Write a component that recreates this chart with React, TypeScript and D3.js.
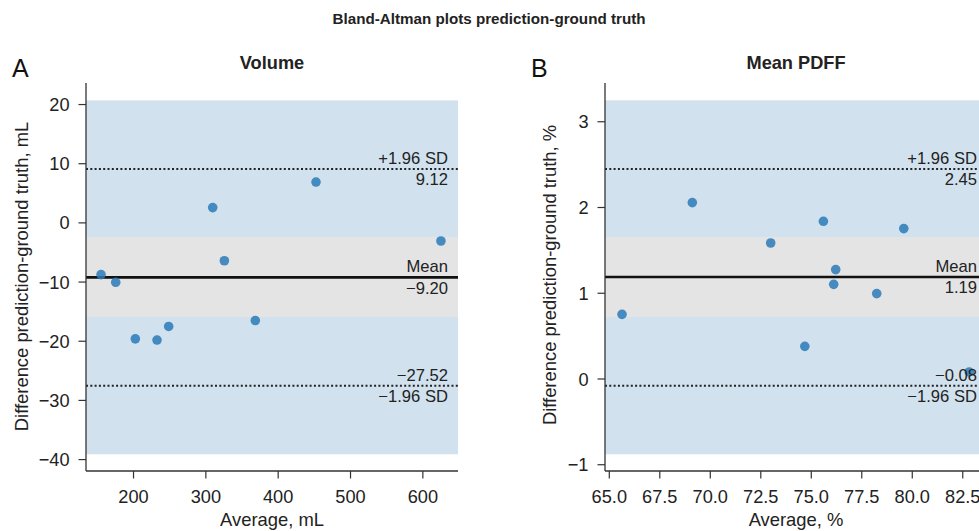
import React from "react";
import * as d3 from "d3";

// ---------- data ----------
const volumeAvg = [155.1, 175.4, 202.5, 232.5, 248.6, 309.5, 325.6, 368.4, 452.3, 625.0];
const volumeDiff = [-8.74, -10.04, -19.6, -19.8, -17.5, 2.58, -6.4, -16.5, 6.9, -3.06];
const pdffAvg = [65.63, 69.11, 72.99, 74.68, 75.6, 76.11, 76.21, 78.24, 79.58, 82.82];
const pdffDiff = [0.754, 2.057, 1.586, 0.381, 1.839, 1.104, 1.276, 0.996, 1.754, 0.082];

const volumeStats = [-9.2, 9.12, -27.52]; // mean, upper, lower
const pdffStats = [1.19, 2.45, -0.08];
const volumeStatLabels = ["−9.20", "9.12", "−27.52"];
const pdffStatLabels = ["1.19", "2.45", "−0.08"];

const volumeBlueBand = [-39.1, 20.7];
const volumeGrayBand = [-15.9, -2.38];
const pdffBlueBand = [-0.878, 3.25];
const pdffGrayBand = [0.723, 1.656];

const volumeXTicks = [200, 300, 400, 500, 600];
const volumeYTicks = [-40, -30, -20, -10, 0, 10, 20];
const pdffXTicks = [65, 67.5, 70, 72.5, 75, 77.5, 80, 82.5];
const pdffYTicks = [-1, 0, 1, 2, 3];

const titles = ["Volume", "Mean PDFF"];
const letters = ["A", "B"];
const xLabels = ["Average, mL", "Average, %"];
const yLabels = ["Difference prediction-ground truth, mL", "Difference prediction-ground truth, %"];

const FONT = "'Liberation Sans', Arial, Helvetica, sans-serif";
const MINUS = "−";

type PanelProps = {
  x0: number; x1: number; y0: number; y1: number;
  xDom: [number, number]; yDom: [number, number];
  avg: number[]; diff: number[];
  stats: number[]; statLabels: string[];
  blue: number[]; gray: number[];
  xTicks: number[]; yTicks: number[];
  xFmt: (v: number) => string; yFmt: (v: number) => string;
  title: string; letter: string; xLabel: string; yLabel: string;
  letterX: number; yLabelX: number; yLabelY: number;
};

function Panel(p: PanelProps) {
  const x = d3.scaleLinear().domain(p.xDom).range([p.x0, p.x1]);
  const y = d3.scaleLinear().domain(p.yDom).range([p.y1, p.y0]);
  const axisColor = "#333";
  const textColor = "#222";
  const labelRight = p.x1 - 10;
  const [mean, up, lo] = p.stats;
  const cx = (p.x0 + p.x1) / 2;
  return (
    <g>
      <defs>
        <clipPath id={"clip-" + p.letter}>
          <rect x={p.x0} y={p.y0} width={p.x1 - p.x0} height={p.y1 - p.y0} />
        </clipPath>
      </defs>
      <rect x={p.x0} width={p.x1 - p.x0} y={y(p.blue[1])} height={y(p.blue[0]) - y(p.blue[1])} fill="#d1e2ee" />
      <rect x={p.x0} width={p.x1 - p.x0} y={y(p.gray[1])} height={y(p.gray[0]) - y(p.gray[1])} fill="#e4e4e4" />
      <g clipPath={`url(#clip-${p.letter})`}>
        <line x1={p.x0} x2={p.x1} y1={y(up)} y2={y(up)} stroke="#222" strokeWidth={2} strokeDasharray="2,2.3" />
        <line x1={p.x0} x2={p.x1} y1={y(lo)} y2={y(lo)} stroke="#222" strokeWidth={2} strokeDasharray="2,2.3" />
        <line x1={p.x0} x2={p.x1} y1={y(mean)} y2={y(mean)} stroke="#111" strokeWidth={2.6} />
        {p.avg.map((a, i) => (
          <circle key={i} cx={x(a)} cy={y(p.diff[i])} r={4.8} fill="#2a7ab8" fillOpacity={0.85} />
        ))}
      </g>
      <g fontFamily={FONT} fontSize={16.6} fill={textColor} textAnchor="end">
        <text x={labelRight} y={y(up) - 5}>+1.96 SD</text>
        <text x={labelRight} y={y(up) + 16}>{p.statLabels[1]}</text>
        <text x={labelRight} y={y(mean) - 5}>Mean</text>
        <text x={labelRight} y={y(mean) + 16.5}>{p.statLabels[0]}</text>
        <text x={labelRight} y={y(lo) - 5}>{p.statLabels[2]}</text>
        <text x={labelRight} y={y(lo) + 16.5}>−1.96 SD</text>
      </g>
      {/* axes */}
      <line x1={p.x0} x2={p.x0} y1={p.y0} y2={p.y1} stroke={axisColor} strokeWidth={1.3} />
      <line x1={p.x0} x2={p.x1} y1={p.y1} y2={p.y1} stroke={axisColor} strokeWidth={1.3} />
      {p.yTicks.map((t) => (
        <g key={"y" + t}>
          <line x1={p.x0 - 7.5} x2={p.x0} y1={y(t)} y2={y(t)} stroke={axisColor} strokeWidth={1.2} />
          <text x={p.x0 - 16.5} y={y(t)} dy="0.36em" textAnchor="end" fontFamily={FONT} fontSize={18.2} fill={textColor}>
            {p.yFmt(t)}
          </text>
        </g>
      ))}
      {p.xTicks.map((t) => (
        <g key={"x" + t}>
          <line x1={x(t)} x2={x(t)} y1={p.y1} y2={p.y1 + 7.5} stroke={axisColor} strokeWidth={1.2} />
          <text x={x(t)} y={p.y1 + 32.3} textAnchor="middle" fontFamily={FONT} fontSize={18.2} fill={textColor}>
            {p.xFmt(t)}
          </text>
        </g>
      ))}
      <text x={cx} y={p.y1 + 54.5} textAnchor="middle" fontFamily={FONT} fontSize={18.4} fill={textColor}>
        {p.xLabel}
      </text>
      <text
        transform={`translate(${p.yLabelX},${p.yLabelY}) rotate(-90)`}
        textAnchor="middle"
        dy="0.35em"
        fontFamily={FONT}
        fontSize={18.4}
        fill={textColor}
      >
        {p.yLabel}
      </text>
      <text x={cx} y={69} textAnchor="middle" fontFamily={FONT} fontSize={18.2} fontWeight="bold" fill={textColor}>
        {p.title}
      </text>
      <text x={p.letterX} y={77} fontFamily={FONT} fontSize={25} fill="#111">
        {p.letter}
      </text>
    </g>
  );
}

const fmtInt = (v: number) => (v < 0 ? MINUS + Math.abs(v) : String(v));
const fmt1 = (v: number) => (v < 0 ? MINUS + Math.abs(v).toFixed(1) : v.toFixed(1));

export default function App() {
  return (
    <svg
      width={979}
      height={531}
      viewBox="0 0 979 531"
      style={{ position: "absolute", left: 0, top: 0, background: "#fff" }}
    >
      <rect width={979} height={531} fill="#fff" />
      <text x={489} y={24} textAnchor="middle" fontFamily={FONT} fontSize={15.2} fontWeight="bold" fill="#222">
        Bland-Altman plots prediction-ground truth
      </text>
      <Panel
        x0={86} x1={458} y0={83} y1={471}
        xDom={[134.3, 648.6]} yDom={[-41.93, 23.64]}
        avg={volumeAvg} diff={volumeDiff}
        stats={volumeStats} statLabels={volumeStatLabels}
        blue={volumeBlueBand} gray={volumeGrayBand}
        xTicks={volumeXTicks} yTicks={volumeYTicks}
        xFmt={fmtInt} yFmt={fmtInt}
        title={titles[0]} letter={letters[0]} xLabel={xLabels[0]} yLabel={yLabels[0]}
        letterX={12} yLabelX={21.5} yLabelY={276.5}
      />
      <Panel
        x0={605} x1={987} y0={83} y1={471}
        xDom={[64.787, 83.7]} yDom={[-1.073, 3.452]}
        avg={pdffAvg} diff={pdffDiff}
        stats={pdffStats} statLabels={pdffStatLabels}
        blue={pdffBlueBand} gray={pdffGrayBand}
        xTicks={pdffXTicks} yTicks={pdffYTicks}
        xFmt={fmt1} yFmt={fmtInt}
        title={titles[1]} letter={letters[1]} xLabel={xLabels[1]} yLabel={yLabels[1]}
        letterX={531} yLabelX={550} yLabelY={275}
      />
    </svg>
  );
}
